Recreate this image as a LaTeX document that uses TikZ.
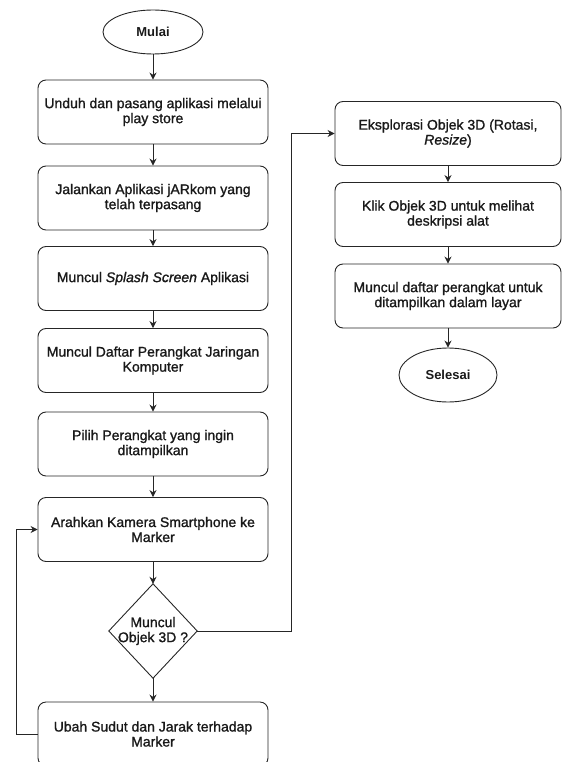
\documentclass[tikz,border=0pt]{standalone}
\usepackage{fontspec}
\setmainfont{Liberation Sans}
\newfontfamily\semibf{Liberation Sans}[FakeBold=1.2]
\usetikzlibrary{arrows.meta,shapes.geometric}
\newcommand\boxfont{\semibf\fontsize{14}{15}\selectfont}
\newcommand\termfont{\fontsize{13}{15}\selectfont\bfseries}
\tikzset{
  ln/.style={line width=0.9pt, draw=black!85},
  proc/.style={ln, rounded corners=8pt, minimum width=230pt, minimum height=64pt, inner sep=0pt, align=center, font=\boxfont, text=black!90},
  procr/.style={proc, minimum width=226pt},
  term/.style={ln, ellipse, inner sep=0pt, font=\termfont, text=black!90},
  decbox/.style={minimum width=88pt, minimum height=94pt, inner sep=0pt, align=center, font=\boxfont, text=black!90},
  arr/.style={ln, -{Stealth[length=7pt,width=7pt]}},
}
\begin{document}
\begin{tikzpicture}[x=1pt,y=-1pt]
\useasboundingbox (0,0) rectangle (562,762);
\node[term, minimum width=100pt, minimum height=44pt] (start) at (153,32) {Mulai};
\node[proc] (b1) at (153,112) {Unduh dan pasang aplikasi melalui\\play store};
\node[proc] (b2) at (153,198) {Jalankan Aplikasi jARkom yang\\telah terpasang};
\node[proc] (b3) at (153,278.5) {Muncul \textit{Splash Screen} Aplikasi};
\node[proc] (b4) at (153,360.5) {Muncul Daftar Perangkat Jaringan\\Komputer};
\node[proc] (b5) at (153,444) {Pilih Perangkat yang ingin\\ditampilkan};
\node[proc] (b6) at (153,529.5) {Arahkan Kamera Smartphone ke\\Marker};
\node[decbox] (d) at (153,631) {Muncul\\Objek 3D ?};
\draw[ln] (d.north) -- (d.east) -- (d.south) -- (d.west) -- cycle;
\node[proc] (b7) at (153,734) {Ubah Sudut dan Jarak terhadap\\Marker};

\node[procr] (r1) at (448,133.5) {Eksplorasi Objek 3D (Rotasi,\\\textit{Resize})};
\node[procr] (r2) at (448,214.5) {Klik Objek 3D untuk melihat\\deskripsi alat};
\node[procr] (r3) at (448,296) {Muncul daftar perangkat untuk\\ditampilkan dalam layar};
\node[term, minimum width=98pt, minimum height=54pt] (end) at (448,375) {Selesai};

\coordinate (lb) at (16,734);
\coordinate (lt) at (16,529.5);
\coordinate (rb) at (291,631);
\coordinate (rt) at (291,133.5);

\draw[arr] (start) -- (b1);
\draw[arr] (b1) -- (b2);
\draw[arr] (b2) -- (b3);
\draw[arr] (b3) -- (b4);
\draw[arr] (b4) -- (b5);
\draw[arr] (b5) -- (b6);
\draw[arr] (b6) -- (d.north);
\draw[arr] (d.south) -- (b7);
\draw[arr] (b7.west) -- (lb) -- (lt) -- (b6.west);
\draw[arr] (d.east) -- (rb) -- (rt) -- (r1.west);
\draw[arr] (r1) -- (r2);
\draw[arr] (r2) -- (r3);
\draw[arr] (r3) -- (end);
\end{tikzpicture}
\end{document}
